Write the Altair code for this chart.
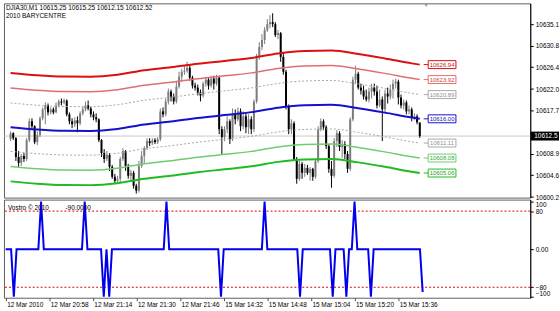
import altair as alt
import pandas as pd

# ---------------- data ----------------
bar_open = [
    10611.9, 10613.1, 10612.1, 10608.3, 10607.1, 10608.5, 10607.9, 10611.7, 10615.5, 10614.5,
    10611.3, 10612.7, 10616.1, 10617.9, 10618.7, 10617.3, 10617.9, 10617.3, 10618.7, 10619.5,
    10619.3, 10619.7, 10616.9, 10615.5, 10614.9, 10615.7, 10615.1, 10617.1, 10617.9, 10618.7,
    10618.1, 10616.9, 10616.3, 10615.9, 10611.7, 10609.1, 10607.9, 10608.7, 10606.3, 10604.3,
    10603.5, 10603.9, 10607.9, 10609.5, 10606.5, 10604.5, 10605.1, 10602.5, 10601.5, 10606.5,
    10608.5, 10610.1, 10611.5, 10611.1, 10611.7, 10611.3, 10611.9, 10617.5, 10616.9, 10619.5,
    10621.5, 10620.5, 10619.5, 10622.5, 10624.5, 10625.5, 10625.7, 10626.3, 10624.3, 10622.7,
    10622.3, 10621.3, 10620.7, 10623.1, 10623.9, 10622.7, 10624.1, 10623.1, 10624.3, 10613.9,
    10612.3, 10613.9, 10615.5, 10611.9, 10617.1, 10615.9, 10617.5, 10614.5, 10616.5, 10614.3,
    10615.9, 10613.9, 10619.5, 10628.5, 10630.5, 10631.9, 10633.9, 10635.1, 10635.5, 10635.1,
    10632.9, 10633.3, 10628.5, 10625.5, 10618.5, 10613.9, 10615.1, 10607.9, 10603.9, 10606.9,
    10605.1, 10606.1, 10605.1, 10605.9, 10604.3, 10607.5, 10613.9, 10615.5, 10614.3, 10610.5,
    10605.9, 10604.5, 10611.5, 10613.1, 10610.3, 10610.9, 10608.9, 10605.9, 10615.9, 10623.9,
    10625.1, 10622.3, 10621.7, 10620.5, 10619.9, 10621.5, 10622.3, 10621.5, 10618.7, 10619.9,
    10617.9, 10621.1, 10620.5, 10621.9, 10623.1, 10623.5, 10620.3, 10618.7, 10619.3, 10617.5,
    10617.9, 10616.3, 10616.5, 10615.25,
]
bar_high = [
    10613.5, 10613.3, 10612.3, 10609.5, 10608.9, 10609.1, 10612.1, 10616.1, 10616.1, 10614.7,
    10613.5, 10616.5, 10618.3, 10619.3, 10619.1, 10618.3, 10618.3, 10619.3, 10619.9, 10620.1,
    10620.1, 10619.9, 10617.3, 10616.1, 10616.3, 10616.5, 10617.5, 10618.5, 10619.5, 10619.7,
    10618.5, 10617.5, 10617.1, 10616.1, 10611.9, 10609.9, 10609.5, 10609.1, 10606.7, 10604.9,
    10604.5, 10608.3, 10610.1, 10609.7, 10606.9, 10605.7, 10605.5, 10602.9, 10607.5, 10609.5,
    10610.5, 10612.1, 10612.1, 10612.1, 10612.1, 10612.3, 10618.1, 10618.3, 10620.1, 10622.1,
    10621.9, 10621.1, 10623.5, 10625.5, 10626.1, 10626.7, 10627.5, 10626.9, 10624.7, 10623.3,
    10622.9, 10621.9, 10623.5, 10624.5, 10624.3, 10624.7, 10624.7, 10624.9, 10624.7, 10614.5,
    10614.5, 10616.5, 10615.9, 10618.1, 10617.9, 10618.3, 10618.1, 10617.5, 10617.1, 10616.9,
    10616.5, 10619.9, 10629.1, 10631.5, 10633.1, 10634.5, 10636.1, 10636.9, 10637.3, 10635.5,
    10633.9, 10633.5, 10629.5, 10625.9, 10618.9, 10615.9, 10615.5, 10608.3, 10607.5, 10607.3,
    10606.9, 10606.7, 10606.3, 10606.1, 10607.9, 10614.5, 10616.1, 10615.9, 10614.7, 10610.9,
    10607.5, 10612.1, 10613.7, 10613.5, 10611.7, 10611.5, 10609.5, 10616.3, 10624.5, 10626.7,
    10625.5, 10623.1, 10622.7, 10621.9, 10622.3, 10623.1, 10623.1, 10622.7, 10621.9, 10620.5,
    10621.9, 10622.3, 10622.9, 10623.9, 10624.1, 10623.9, 10620.9, 10619.9, 10619.7, 10618.7,
    10618.3, 10617.1, 10616.9, 10615.25,
]
bar_low = [
    10611.5, 10611.7, 10607.5, 10606.3, 10606.5, 10607.3, 10607.5, 10611.3, 10613.9, 10610.9,
    10610.7, 10612.3, 10615.7, 10614.9, 10616.7, 10616.9, 10616.9, 10617.1, 10618.3, 10618.7,
    10618.9, 10616.5, 10614.9, 10614.1, 10614.3, 10613.3, 10614.7, 10616.7, 10617.5, 10617.7,
    10616.3, 10615.7, 10615.3, 10611.3, 10608.3, 10607.1, 10607.5, 10605.5, 10603.9, 10602.9,
    10603.1, 10603.1, 10607.5, 10605.5, 10603.9, 10603.5, 10601.9, 10600.9, 10601.1, 10606.1,
    10606.9, 10609.7, 10610.5, 10610.7, 10610.9, 10610.9, 10611.5, 10616.3, 10616.5, 10618.9,
    10619.5, 10618.9, 10619.1, 10622.1, 10623.5, 10624.9, 10625.3, 10623.7, 10622.1, 10621.7,
    10620.7, 10619.5, 10620.3, 10622.5, 10621.9, 10622.3, 10621.9, 10622.7, 10612.9, 10608.9,
    10611.5, 10613.1, 10610.9, 10611.5, 10614.9, 10615.5, 10613.5, 10613.9, 10613.1, 10612.9,
    10612.9, 10613.3, 10619.1, 10627.9, 10629.9, 10631.1, 10633.5, 10634.3, 10634.5, 10632.5,
    10632.1, 10627.5, 10624.9, 10617.9, 10612.9, 10612.9, 10607.5, 10602.9, 10603.5, 10603.9,
    10604.3, 10604.7, 10603.5, 10603.5, 10603.9, 10607.1, 10613.5, 10613.7, 10609.9, 10605.1,
    10602.1, 10604.1, 10610.3, 10609.5, 10608.1, 10607.9, 10605.1, 10605.5, 10615.5, 10623.1,
    10621.9, 10620.9, 10619.9, 10619.5, 10619.3, 10620.1, 10620.7, 10618.1, 10618.3, 10611.5,
    10617.1, 10619.1, 10619.9, 10620.1, 10622.1, 10618.9, 10618.1, 10617.9, 10616.9, 10616.9,
    10615.5, 10615.7, 10614.9, 10612.15,
]
bar_close = [
    10613.1, 10612.1, 10608.3, 10607.1, 10608.5, 10607.9, 10611.7, 10615.5, 10614.5, 10611.3,
    10612.7, 10616.1, 10617.9, 10618.7, 10617.3, 10617.9, 10617.3, 10618.7, 10619.5, 10619.3,
    10619.7, 10616.9, 10615.5, 10614.9, 10615.7, 10615.1, 10617.1, 10617.9, 10618.7, 10618.1,
    10616.9, 10616.3, 10615.9, 10611.7, 10609.1, 10607.9, 10608.7, 10606.3, 10604.3, 10603.5,
    10603.9, 10607.9, 10609.5, 10606.5, 10604.5, 10605.1, 10602.5, 10601.5, 10606.5, 10608.5,
    10610.1, 10611.5, 10611.1, 10611.7, 10611.3, 10611.9, 10617.5, 10616.9, 10619.5, 10621.5,
    10620.5, 10619.5, 10622.5, 10624.5, 10625.5, 10625.7, 10626.3, 10624.3, 10622.7, 10622.3,
    10621.3, 10620.7, 10623.1, 10623.9, 10622.7, 10624.1, 10623.1, 10624.3, 10613.9, 10612.3,
    10613.9, 10615.5, 10611.9, 10617.1, 10615.9, 10617.5, 10614.5, 10616.5, 10614.3, 10615.9,
    10613.9, 10619.5, 10628.5, 10630.5, 10631.9, 10633.9, 10635.1, 10635.5, 10635.1, 10632.9,
    10633.3, 10628.5, 10625.5, 10618.5, 10613.9, 10615.1, 10607.9, 10603.9, 10606.9, 10605.1,
    10606.1, 10605.1, 10605.9, 10604.3, 10607.5, 10613.9, 10615.5, 10614.3, 10610.5, 10605.9,
    10604.5, 10611.5, 10613.1, 10610.3, 10610.9, 10608.9, 10605.9, 10615.9, 10623.9, 10625.1,
    10622.3, 10621.7, 10620.5, 10619.9, 10621.5, 10622.3, 10621.5, 10618.7, 10619.9, 10617.9,
    10621.1, 10620.5, 10621.9, 10623.1, 10623.5, 10620.3, 10618.7, 10619.3, 10617.5, 10617.9,
    10616.3, 10616.5, 10615.3, 10612.52,
]

center_idx = [0, 10, 20, 30, 40, 50, 60, 70, 80, 90, 100, 110, 120, 130, 140, 150, 153]
center_val = [10614.32, 10613.86, 10613.60, 10613.56, 10613.96, 10614.86, 10615.46, 10616.16,
              10616.75, 10617.35, 10618.25, 10618.75, 10618.85, 10618.15, 10617.25, 10616.25, 10616.00]
band_offsets = [10.94, 7.92, 4.89, 0.0, -4.89, -7.92, -10.94]
band_end_labels = ["10626.94", "10623.92", "10620.89", "10616.00", "10611.11", "10608.08", "10605.06"]
band_end_values = [10626.94, 10623.92, 10620.89, 10616.00, 10611.11, 10608.08, 10605.06]

# oscillator (Vostro) values per bar
osc = [
    0, 0, 0, -100, 0, 0, 0, 0, 0, 0, 0, 0, 0, 100, 0, 0, 0, 0, 0, 0,
    0, 0, 0, 0, 0, 0, 0, 0, 0, 100, 0, 0, 0, 0, 0, 0, -100, 0, -100, 0,
    0, 0, 0, 0, 0, 0, 0, 0, 0, 0, 0, 0, 0, 0, 0, 0, 0, 0, 0, 100,
    0, 0, 0, 0, 0, 0, 0, 0, 0, 0, 0, 0, 0, 0, 0, 0, 0, 0, 0, -100,
    0, 0, 0, 0, 0, 0, 0, 0, 0, 0, 0, 0, 0, 0, 0, 100, 0, 0, 0, 0,
    0, 0, 0, 0, 0, 0, 0, 0, -100, 0, 0, 0, 0, 0, 0, 0, 0, 0, 0, 0,
    -100, 0, 0, 0, 0, -100, 0, 0, 100, 0, 0, 0, 0, 0, -100, 0, 0, 0, 0, 0,
    0, 0, 0, 0, 0, 0, 0, 0, 0, 0, 0, 0, 0, -90,
]
osc_levels = [80, -80]

time_tick_idx = [0, 16, 32, 48, 64, 80, 96, 112, 128, 144]
time_tick_labels = ["12 Mar 2010", "12 Mar 20:58", "12 Mar 21:14", "12 Mar 21:30", "12 Mar 21:46",
                    "15 Mar 14:32", "15 Mar 14:48", "15 Mar 15:04", "15 Mar 15:20", "15 Mar 15:36"]
price_ticks = [10600.2, 10604.6, 10608.9, 10617.7, 10622.0, 10626.4, 10630.8, 10635.1]
osc_ticks = [100, 80, 0, -80, -100]
last_price = 10612.52

title_line1 = "DJIA30,M1  10615.25 10615.25 10612.15 10612.52"
title_line2 = "2010 BARYCENTRE"
sub_title = "Vostro © 2010"
sub_value = "-90.0000"

# ---------------- styling ----------------
FONT = "Liberation Sans"
W = 531
H_MAIN = 196
H_SUB = 99

band_colors = ["#dc1010", "#e07070", "#a8a8a8", "#1212cc", "#a8a8a8", "#70cc70", "#20bb20"]
band_widths = [2, 1.5, 1, 2, 1, 1.5, 2]
band_dashed = [False, False, True, False, True, False, False]
box_text_colors = ["#c81c1c", "#c83c3c", "#909090", "#1414b0", "#909090", "#38a838", "#28a028"]

xs = alt.Scale(domain=[-0.618, 192.47], nice=False, zero=False)
ys = alt.Scale(domain=[10600.1, 10639.3], nice=False, zero=False)
os_ = alt.Scale(domain=[-102, 104.2], nice=False, zero=False)

n = len(bar_close)
candles = pd.DataFrame({"i": list(range(n)), "o": bar_open, "h": bar_high,
                        "l": bar_low, "c": bar_close})
candles["dir"] = ["up" if c >= o else "down" for o, c in zip(bar_open, bar_close)]
cscale = alt.Scale(domain=["up", "down"], range=["#7c7c7c", "#000000"])

yax = alt.Axis(orient="right", values=price_ticks, format=".1f", title=None, tickSize=3,
               labelPadding=2, labelFontSize=6.5, labelFont=FONT, domainColor="#000000",
               tickColor="#000000", labelColor="#000000", grid=False, labelOverlap=False,
               labelFlush=False)


def Y(field):
    return alt.Y(field, scale=ys, axis=yax)


def X(field):
    return alt.X(field, scale=xs, axis=None)


price_line = alt.Chart(pd.DataFrame({"p": [last_price]})).mark_rule(
    color="#c8c8c8", strokeWidth=1).encode(y=Y("p:Q"))

wicks = alt.Chart(candles).mark_rule(strokeWidth=1).encode(
    x=X("i:Q"), y=Y("l:Q"), y2="h:Q",
    color=alt.Color("dir:N", scale=cscale, legend=None))
bodies = alt.Chart(candles).mark_bar(width=2).encode(
    x=X("i:Q"), y=Y("o:Q"), y2="c:Q",
    color=alt.Color("dir:N", scale=cscale, legend=None))

band_layers = []
for k, off in enumerate(band_offsets):
    bdf = pd.DataFrame({"i": center_idx, "v": [c + off for c in center_val]})
    kw = dict(color=band_colors[k], strokeWidth=band_widths[k], interpolate="monotone")
    if band_dashed[k]:
        kw["strokeDash"] = [2, 2]
    band_layers.append(alt.Chart(bdf).mark_line(**kw).encode(x=X("i:Q"), y=Y("v:Q")))

lab = pd.DataFrame({"v": band_end_values, "t": band_end_labels,
                    "sc": band_colors, "tc": box_text_colors})
connectors = alt.Chart(lab).mark_rule(strokeWidth=1).encode(
    x=alt.value(423.5), x2=alt.value(428), y=Y("v:Q"),
    color=alt.Color("sc:N", scale=None))
boxes = alt.Chart(lab).mark_rect(fill="white", strokeWidth=1, yOffset=-4, y2Offset=4).encode(
    x=alt.value(428), x2=alt.value(456), y=Y("v:Q"), y2="v:Q",
    stroke=alt.Stroke("sc:N", scale=None))
box_text = alt.Chart(lab).mark_text(font=FONT, fontSize=6, align="center", baseline="middle").encode(
    x=alt.value(442), y=Y("v:Q"), text="t:N",
    color=alt.Color("tc:N", scale=None))

lp = pd.DataFrame({"p": [last_price], "t": ["10612.5"]})
price_box = alt.Chart(lp).mark_rect(color="#000000", yOffset=-4.5, y2Offset=4.5).encode(
    x=alt.value(531.5), x2=alt.value(560), y=Y("p:Q"), y2="p:Q")
price_box_text = alt.Chart(lp).mark_text(font=FONT, fontSize=6.5, align="left",
                                         baseline="middle", color="white").encode(
    x=alt.value(535), y=Y("p:Q"), text="t:N")

one = pd.DataFrame({"a": [0]})
t1 = alt.Chart(one).mark_text(text=title_line1, font=FONT, fontSize=6.5, align="left",
                              baseline="middle", color="#000000").encode(
    x=alt.value(2), y=alt.value(5))
t2 = alt.Chart(one).mark_text(text=title_line2, font=FONT, fontSize=6.5, align="left",
                              baseline="middle", color="#000000").encode(
    x=alt.value(2), y=alt.value(13))
shift_mark = alt.Chart(one).mark_point(shape="triangle-down", filled=True, size=16,
                                       color="#9a9a9a", opacity=1).encode(
    x=alt.value(426), y=alt.value(2))

main = alt.layer(price_line, wicks, bodies, *band_layers, connectors, boxes, box_text,
                 price_box, price_box_text, t1, t2, shift_mark).properties(width=W, height=H_MAIN)

# ---------------- sub panel ----------------
label_arr = "[" + ",".join("'%s'" % s for s in time_tick_labels) + "]"
xax = alt.Axis(values=time_tick_idx, labelExpr=label_arr + "[round(datum.value / 16)]",
               orient="bottom", title=None, tickSize=3, labelPadding=1, labelFontSize=6.5,
               labelFont=FONT, labelAlign="left", labelBaseline="top", labelOffset=1,
               labelFlush=False, labelOverlap=False, domain=False, tickColor="#505050",
               labelColor="#000000", grid=False)
sax = alt.Axis(orient="right", values=osc_ticks, format="d",
               labelExpr="datum.value == 0 ? '0.00' : datum.label", title=None, tickSize=3,
               labelPadding=2, labelFontSize=6.5, labelFont=FONT, labelFlush=3,
               domainColor="#000000", tickColor="#000000", labelColor="#000000",
               labelOverlap=False, grid=False)

odf = pd.DataFrame({"i": list(range(len(osc))), "v": osc})
osc_line = alt.Chart(odf).mark_line(color="#0000ee", strokeWidth=2).encode(
    x=alt.X("i:Q", scale=xs, axis=xax), y=alt.Y("v:Q", scale=os_, axis=sax))
lvl = alt.Chart(pd.DataFrame({"v": osc_levels})).mark_rule(
    color="#e00000", strokeDash=[2, 2], strokeWidth=1).encode(
    y=alt.Y("v:Q", scale=os_, axis=sax))
st1 = alt.Chart(one).mark_text(text=sub_title, font=FONT, fontSize=6.5, align="left",
                               baseline="middle", color="#000000").encode(
    x=alt.value(4), y=alt.value(8))
st2 = alt.Chart(one).mark_text(text=sub_value, font=FONT, fontSize=6.5, align="left",
                               baseline="middle", color="#000000").encode(
    x=alt.value(62), y=alt.value(8))

sub = alt.layer(lvl, osc_line, st1, st2).properties(width=W, height=H_SUB)

chart = alt.vconcat(main, sub, spacing=2, bounds="flush").properties(
    padding={"left": 1, "top": 1, "right": 0, "bottom": 0}, background="white"
).configure_view(stroke="#606060", strokeWidth=1)

chart.save("out.html", embed_options={"renderer": "svg", "actions": False})
